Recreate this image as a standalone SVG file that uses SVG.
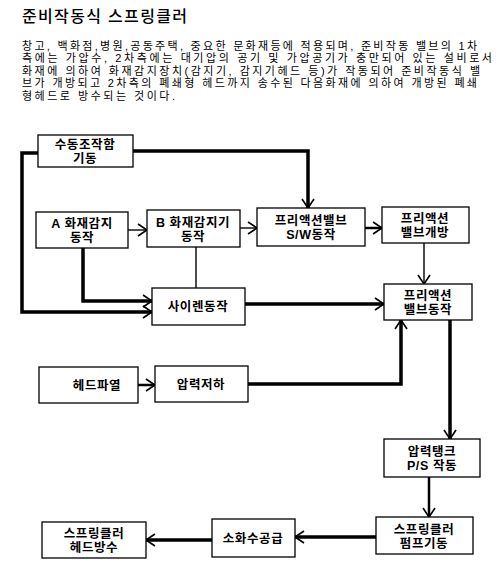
<svg xmlns="http://www.w3.org/2000/svg" width="500" height="585" viewBox="0 0 500 585">
<defs>
<style>
.bg{fill:#fff}
.box{fill:#fff;stroke:#000;stroke-width:1.3}
.t{font-family:"Liberation Sans","Noto Sans CJK KR",sans-serif;font-size:12.5px;font-weight:bold;letter-spacing:0.6px;text-anchor:middle;fill:#000}
.p{font-family:"Liberation Sans","Noto Sans CJK KR",sans-serif;font-size:11px;fill:#000}
.title{font-family:"Liberation Sans","Noto Sans CJK KR",sans-serif;font-size:16px;font-weight:500;fill:#000}
.thick{fill:none;stroke:#000;stroke-width:3.5}
.med{fill:none;stroke:#000;stroke-width:2.5}
.thin{fill:none;stroke:#000;stroke-width:1.4}
</style>
<marker id="ah" markerUnits="userSpaceOnUse" markerWidth="12" markerHeight="14" refX="9" refY="6" orient="auto" overflow="visible">
<path d="M0,0 L9,6 L0,12" fill="none" stroke="#000" stroke-width="1.6"/>
</marker>
</defs>
<rect class="bg" x="0" y="0" width="500" height="585"/>
<text class="title" x="22" y="22" textLength="165" lengthAdjust="spacing">준비작동식 스프링클러</text>
<g id="desc">
<text class="p" x="22" y="50" textLength="455" lengthAdjust="spacing">창고, 백화점,병원,공동주택, 중요한 문화재등에 적용되며, 준비작동 밸브의 1차</text>
<text class="p" x="22" y="62.4" textLength="470" lengthAdjust="spacing">측에는 가압수, 2차측에는 대기압의 공기 및 가압공기가 충만되어 있는 설비로서</text>
<text class="p" x="22" y="74.8" textLength="458" lengthAdjust="spacing">화재에 의하여 화재감지장치(감지기, 감지기헤드 등)가 작동되어 준비작동식 밸</text>
<text class="p" x="22" y="87.2" textLength="455" lengthAdjust="spacing">브가 개방되고 2차측의 폐쇄형 헤드까지 송수된 다음화재에 의하여 개방된 폐쇄</text>
<text class="p" x="22" y="99.6" textLength="153" lengthAdjust="spacing">형헤드로 방수되는 것이다.</text>
</g>
<g id="connectors">
<path class="thick" d="M133,151 H308 V208" marker-end="url(#ah)"/>
<path class="thick" d="M38,153 H22 V312 H152" marker-end="url(#ah)"/>
<path class="thick" d="M83,248 V301 H152" marker-end="url(#ah)"/>
<path class="thin" d="M128,230 H147" marker-end="url(#ah)"/>
<path class="thin" d="M240,228 H257" marker-end="url(#ah)"/>
<path class="thin" d="M196,247 V288"/>
<path class="med" d="M365,228 H382" marker-end="url(#ah)"/>
<path class="thin" d="M424,243 V284" marker-end="url(#ah)"/>
<path class="thick" d="M245,304 H384" marker-end="url(#ah)"/>
<path class="thick" d="M248,384 H401 V320" marker-end="url(#ah)"/>
<path class="thick" d="M450,320 V439" marker-end="url(#ah)"/>
<path class="med" d="M138,385 H155" marker-end="url(#ah)"/>
<path class="med" d="M429,477 V517" marker-end="url(#ah)"/>
<path class="thick" d="M376,537 H295" marker-end="url(#ah)"/>
<path class="thick" d="M212,540 H146" marker-end="url(#ah)"/>
</g>
<g id="manual"><rect class="box" x="38" y="135" width="95" height="32"/><text class="t" x="85" y="149">수동조작함</text><text class="t" x="85" y="163">기동</text></g>
<g id="detA"><rect class="box" x="36" y="212" width="92" height="36"/><text class="t" x="82" y="228">A 화재감지</text><text class="t" x="82" y="242">동작</text></g>
<g id="detB"><rect class="box" x="147" y="210" width="93" height="37"/><text class="t" x="193" y="226.5">B 화재감지기</text><text class="t" x="193" y="240.5">동작</text></g>
<g id="siren"><rect class="box" x="152" y="288" width="93" height="37"/><text class="t" x="198" y="311">사이렌동작</text></g>
<g id="sw"><rect class="box" x="257" y="208" width="108" height="38"/><text class="t" x="311" y="225">프리액션밸브</text><text class="t" x="311" y="239">S/W동작</text></g>
<g id="open"><rect class="box" x="382" y="207" width="87" height="36"/><text class="t" x="425" y="223">프리액션</text><text class="t" x="425" y="237">밸브개방</text></g>
<g id="act"><rect class="box" x="384" y="284" width="88" height="36"/><text class="t" x="428" y="300">프리액션</text><text class="t" x="428" y="314">밸브동작</text></g>
<g id="burst"><rect class="box" x="39" y="367" width="99" height="36"/><text class="t" x="97" y="389.5">헤드파열</text></g>
<g id="drop"><rect class="box" x="155" y="366" width="93" height="36"/><text class="t" x="201" y="388.5">압력저하</text></g>
<g id="tank"><rect class="box" x="384" y="439" width="96" height="38"/><text class="t" x="432" y="456">압력탱크</text><text class="t" x="432" y="470">P/S 작동</text></g>
<g id="pump"><rect class="box" x="376" y="517" width="97" height="37"/><text class="t" x="424" y="533.5">스프링클러</text><text class="t" x="424" y="547.5">펌프기동</text></g>
<g id="supply"><rect class="box" x="212" y="519" width="83" height="38"/><text class="t" x="253" y="542.5">소화수공급</text></g>
<g id="spray"><rect class="box" x="42" y="522" width="104" height="36"/><text class="t" x="94" y="538">스프링클러</text><text class="t" x="94" y="552">헤드방수</text></g>
</svg>
